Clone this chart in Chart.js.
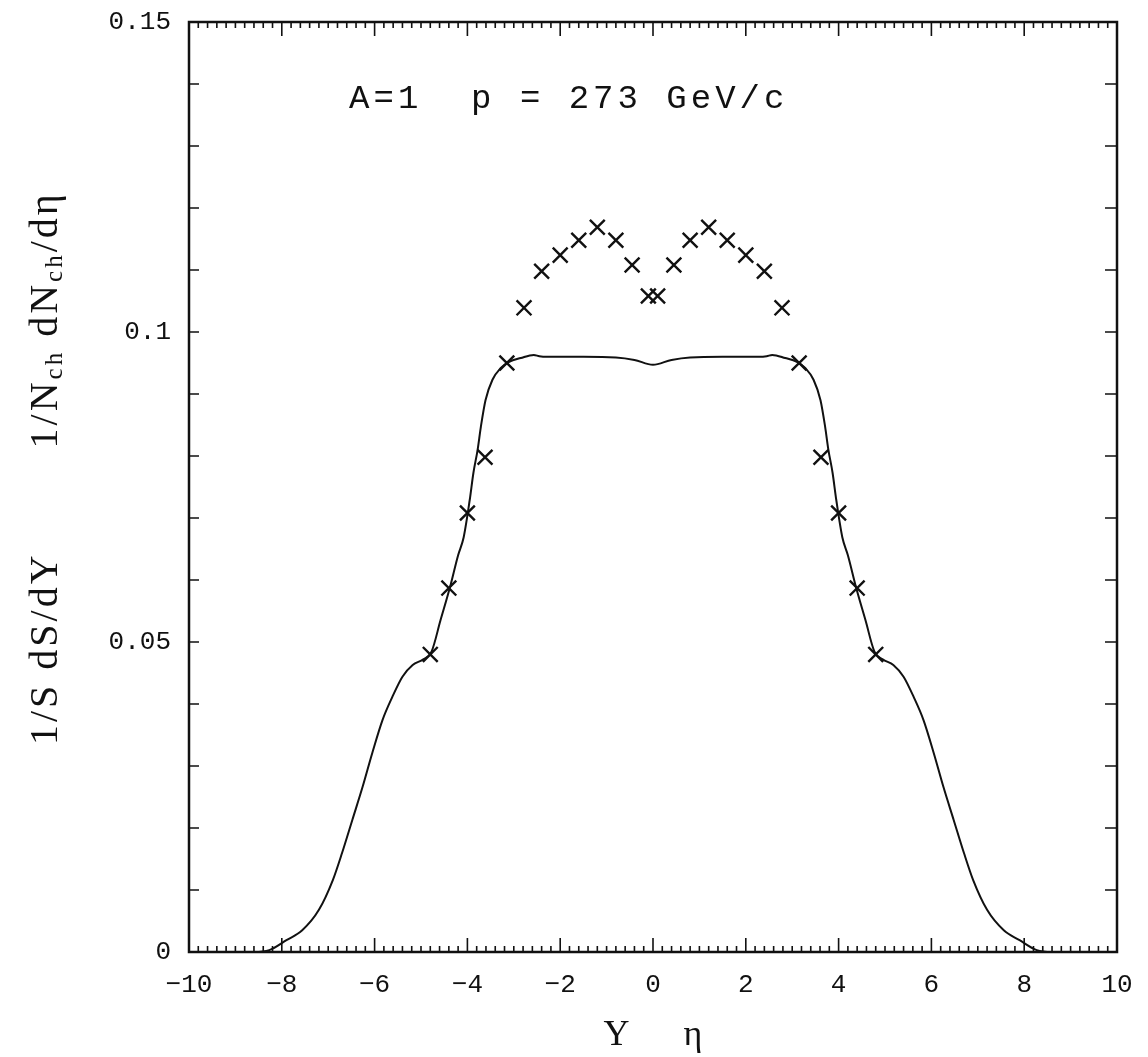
<!DOCTYPE html>
<html>
<head>
<meta charset="utf-8">
<script src="https://cdn.jsdelivr.net/npm/chart.js@4.4.1/dist/chart.umd.min.js"></script>
<style>
  body { margin: 0; background: #fff; }
  canvas { display: block; }
</style>
</head>
<body>
<canvas id="myChart" width="1148" height="1057"></canvas>
<script>
// solid curve (1/S dS/dY)
const curveX = [-10, -9, -8.6, -8.27, -7.9, -7.56, -7.2, -6.9, -6.7, -6.48, -6.26, -6.05, -5.83, -5.62, -5.4, -5.18, -4.95, -4.77,
  -4.58, -4.38, -4.2, -4.08, -3.95, -3.87, -3.78, -3.71, -3.61, -3.46, -3.28, -3.1, -2.85, -2.57, -2.45, -2.3, -1.5, -0.8, -0.4, 0,
  0.4, 0.8, 1.5, 2.3, 2.45, 2.57, 2.85, 3.1, 3.28, 3.46, 3.61, 3.71, 3.78, 3.87, 3.95, 4.08, 4.2, 4.38, 4.58,
  4.77, 4.95, 5.18, 5.4, 5.62, 5.83, 6.05, 6.26, 6.48, 6.7, 6.9, 7.2, 7.56, 7.9, 8.27, 8.6, 9, 10];
const curveY = [0, 0, 0, 0.0003, 0.0019, 0.0035, 0.0068, 0.0116, 0.016, 0.0213, 0.0266, 0.0321, 0.0374, 0.0411, 0.0444, 0.0463, 0.0472, 0.0485,
  0.0535, 0.0587, 0.064, 0.0669, 0.0729, 0.0773, 0.081, 0.0847, 0.089, 0.0923, 0.0942, 0.0952, 0.0958, 0.0963, 0.0961, 0.096, 0.096, 0.0959, 0.0955, 0.0947,
  0.0955, 0.0959, 0.096, 0.096, 0.0961, 0.0963, 0.0958, 0.0952, 0.0942, 0.0923, 0.089, 0.0847, 0.081, 0.0773, 0.0729, 0.0669, 0.064, 0.0587, 0.0535,
  0.0485, 0.0472, 0.0463, 0.0444, 0.0411, 0.0374, 0.0321, 0.0266, 0.0213, 0.016, 0.0116, 0.0068, 0.0035, 0.0019, 0.0003, 0, 0, 0];

// crosses (1/Nch dNch/deta)
const crossX = [-4.8, -4.4, -4.0, -3.62, -3.15, -2.78, -2.4, -2.0, -1.6, -1.2, -0.8, -0.45, -0.1,
  0.1, 0.45, 0.8, 1.2, 1.6, 2.0, 2.4, 2.78, 3.15, 3.62, 4.0, 4.4, 4.8];
const crossY = [0.048, 0.0587, 0.0708, 0.0798, 0.095, 0.1039, 0.1098, 0.1124, 0.1148, 0.1169, 0.1148, 0.1108, 0.1058,
  0.1058, 0.1108, 0.1148, 0.1169, 0.1148, 0.1124, 0.1098, 0.1039, 0.095, 0.0798, 0.0708, 0.0587, 0.048];

const yLabelValues = [0, 0.05, 0.1, 0.15];
const plotLabel = 'A=1  p = 273 GeV/c';
const plotLabelAt = [-6.55, 0.1361];

const curveData = curveX.map((x, i) => ({ x: x, y: curveY[i] }));
const crossData = crossX.map((x, i) => ({ x: x, y: crossY[i] }));

// box, inward ticks, label and y title
const frame = {
  id: 'frame',
  afterDatasetsDraw(chart) {
    const ctx = chart.ctx;
    const a = chart.chartArea;
    const xs = chart.scales.x, ys = chart.scales.y;
    ctx.save();
    ctx.strokeStyle = '#111';
    ctx.lineWidth = 2.5;
    ctx.strokeRect(a.left, a.top, a.right - a.left, a.bottom - a.top);
    ctx.lineWidth = 1.6;
    ctx.beginPath();
    for (let i = 0; i <= 100; i++) {
      const px = xs.getPixelForValue(-10 + i * 0.2);
      const len = (i % 10 === 0) ? 14 : 6;
      ctx.moveTo(px, a.bottom); ctx.lineTo(px, a.bottom - len);
      ctx.moveTo(px, a.top); ctx.lineTo(px, a.top + len);
    }
    for (let i = 0; i <= 15; i++) {
      const py = ys.getPixelForValue(i * 0.01);
      ctx.moveTo(a.left, py); ctx.lineTo(a.left + 10, py);
      ctx.moveTo(a.right, py); ctx.lineTo(a.right - 12, py);
    }
    ctx.stroke();

    // text inside the plot
    ctx.fillStyle = '#111';
    ctx.font = '34px "Liberation Mono"';
    ctx.letterSpacing = '4px';
    ctx.textBaseline = 'alphabetic';
    ctx.textAlign = 'left';
    ctx.fillText(plotLabel, xs.getPixelForValue(plotLabelAt[0]), ys.getPixelForValue(plotLabelAt[1]));
    ctx.letterSpacing = '0px';

    // y title with subscripts
    const parts = [
      ['1/S dS/dY', 40, 0], ['        ', 40, 0],
      ['1/N', 40, 0], ['ch', 25, 9], [' dN', 40, 0], ['ch', 25, 9], ['/d\u03b7', 40, 0]
    ];
    ctx.translate(36, 745);
    ctx.rotate(-Math.PI / 2);
    ctx.textBaseline = 'middle';
    ctx.letterSpacing = '3px';
    let pos = 0;
    for (const p of parts) {
      ctx.font = p[1] + 'px "Liberation Serif"';
      ctx.fillText(p[0], pos, p[2] + 10);
      pos += ctx.measureText(p[0]).width;
    }
    ctx.restore();
  }
};

const config = {
  type: 'scatter',
  data: {
    datasets: [
      {
        label: 'curve',
        data: curveData,
        showLine: true,
        borderColor: '#111',
        borderWidth: 2,
        pointRadius: 0,
        cubicInterpolationMode: 'monotone'
      },
      {
        label: 'eta',
        data: crossData,
        showLine: false,
        pointStyle: 'crossRot',
        pointRadius: 10.5,
        borderColor: '#111',
        borderWidth: 2.4
      }
    ]
  },
  options: {
    responsive: false,
    animation: false,
    layout: { padding: { top: 22, right: 31, left: 0, bottom: 0 } },
    plugins: {
      legend: { display: false },
      tooltip: { enabled: false }
    },
    scales: {
      x: {
        type: 'linear',
        min: -10, max: 10,
        grid: { display: false },
        border: { display: false },
        ticks: {
          stepSize: 2,
          padding: 10,
          color: '#111',
          font: { family: '"Liberation Mono"', size: 26 },
          maxRotation: 0,
          callback: v => String(v).replace('-', '\u2212')
        },
        title: {
          display: true,
          text: 'Y      \u03b7',
          color: '#111',
          font: { family: '"Liberation Serif"', size: 36 },
          padding: { top: 0, bottom: 0 }
        },
        afterFit: s => { s.height = 105; s.paddingLeft = 0; s.paddingRight = 0; }
      },
      y: {
        type: 'linear',
        min: 0, max: 0.15,
        grid: { display: false },
        border: { display: false },
        afterBuildTicks: s => { s.ticks = yLabelValues.map(v => ({ value: v })); },
        ticks: {
          padding: 10,
          color: '#111',
          font: { family: '"Liberation Mono"', size: 26 },
          callback: v => String(+v.toFixed(2))
        },
        afterFit: s => { s.width = 189; s.paddingTop = 0; s.paddingBottom = 0; }
      }
    }
  },
  plugins: [frame]
};

const myChart = new Chart(document.getElementById('myChart'), config);
</script>
</body>
</html>
